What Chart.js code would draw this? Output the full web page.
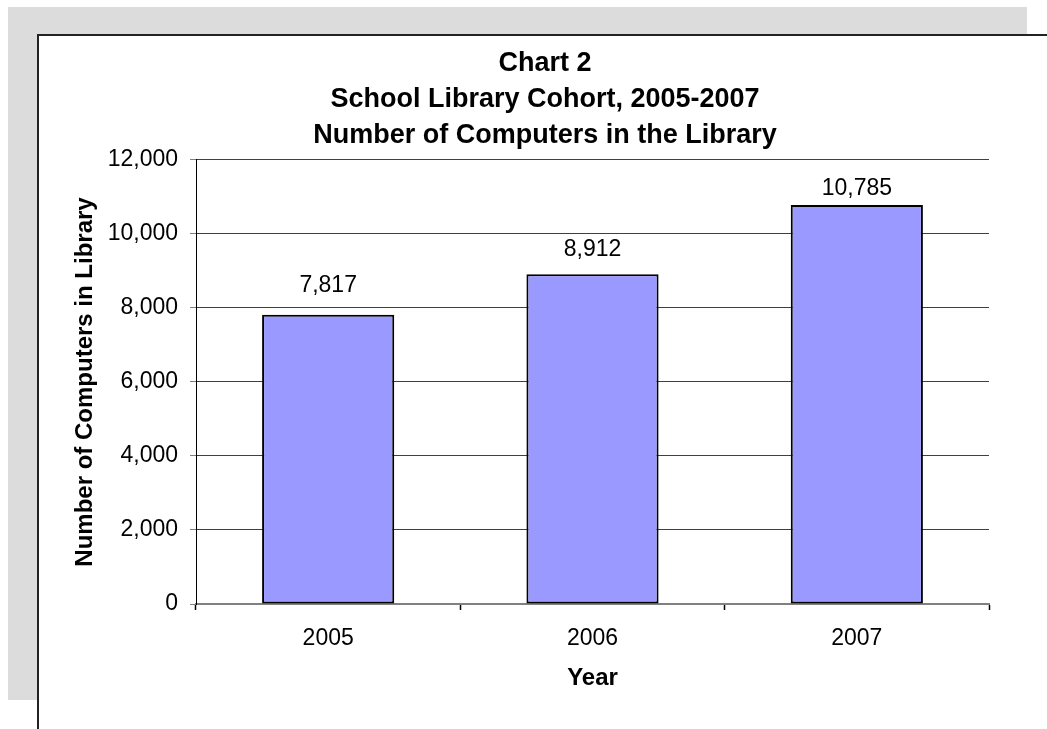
<!DOCTYPE html>
<html>
<head>
<meta charset="utf-8">
<title>School Library Cohort</title>
<script src="https://cdn.jsdelivr.net/npm/chart.js@4.4.0/dist/chart.umd.min.js"></script>
<style>
  html, body { margin: 0; padding: 0; background: #fff; }
  #wrap { position: relative; width: 1047px; height: 729px; overflow: hidden; }
  /* grey frame behind the chart sheet */
  #backdrop { position: absolute; left: 8px; top: 7px; width: 1019px; height: 693px; background: #dcdcdc; }
  #sheet { position: absolute; left: 37px; top: 34px; right: 0; bottom: 0; background: #fff;
           border-left: 2px solid #222; border-top: 2px solid #222; }
  #chart { position: absolute; left: 0; top: 0; }
</style>
</head>
<body>
<div id="wrap">
  <div id="backdrop"></div>
  <div id="sheet"></div>
  <canvas id="chart" width="1047" height="729"></canvas>
</div>
<script>
// data
var years = ['2005', '2006', '2007'];
var computers = [7817, 8912, 10785];
var yMax = 12000;
var yStep = 2000;
var titleLines = ['Chart 2', 'School Library Cohort, 2005-2007', 'Number of Computers in the Library'];
var xTitle = 'Year';
var yTitle = 'Number of Computers in Library';

var FONT = '"Liberation Sans", Arial, Helvetica, sans-serif';

function fmt(v) {
    return Number(v).toLocaleString('en-US');
}

// writes the value above each bar; labels sit a bit closer to the taller bars
var barValueLabels = {
    id: 'barValueLabels',
    afterDatasetsDraw: function (chart) {
        var ctx = chart.ctx;
        var top = chart.chartArea.top;
        var meta = chart.getDatasetMeta(0);
        ctx.save();
        ctx.font = '23px ' + FONT;
        ctx.fillStyle = '#000';
        ctx.textAlign = 'center';
        ctx.textBaseline = 'middle';
        meta.data.forEach(function (bar, i) {
            var y = top + 0.88 * (bar.y - top) - 11;
            ctx.fillText(fmt(computers[i]), bar.x, y);
        });
        ctx.restore();
    }
};

new Chart(document.getElementById('chart').getContext('2d'), {
    type: 'bar',
    data: {
        labels: years,
        datasets: [{
            data: computers,
            backgroundColor: '#9999ff',
            borderColor: '#000',
            borderWidth: 2,
            borderSkipped: false,
            categoryPercentage: 1,
            barPercentage: 0.5
        }]
    },
    plugins: [barValueLabels],
    options: {
        responsive: false,
        animation: false,
        // wide left padding keeps the title centred on the sheet
        layout: { padding: { left: 101, right: 58, top: 0, bottom: 36 } },
        plugins: {
            legend: { display: false },
            tooltip: { enabled: false },
            title: {
                display: true,
                text: titleLines,
                color: '#000',
                font: { family: FONT, size: 27, weight: 'bold', lineHeight: 1.333 },
                padding: { top: 46, bottom: 6 }
            }
        },
        scales: {
            x: {
                grid: { offset: true, drawOnChartArea: false, tickLength: 6, tickColor: '#000', tickWidth: 1.5 },
                border: { color: '#808080', width: 2 },
                ticks: { color: '#000', font: { family: FONT, size: 23 }, padding: 15 },
                title: { display: true, text: xTitle, color: '#000',
                         font: { family: FONT, size: 24, weight: 'bold' }, padding: 0 },
                afterFit: function (scale) { scale.height = 89; }
            },
            y: {
                min: 0,
                max: yMax,
                ticks: { stepSize: yStep, color: '#000', font: { family: FONT, size: 23 }, padding: 12,
                         callback: function (v) { return fmt(v); } },
                grid: { color: '#404040', lineWidth: 1, tickLength: 6, tickColor: '#808080' },
                border: { color: '#000', width: 1 },
                // negative padding pulls the axis title out into the left margin
                title: { display: true, text: yTitle, color: '#000',
                         font: { family: FONT, size: 24, weight: 'bold' }, padding: { top: -30, bottom: 0 } },
                afterFit: function (scale) { scale.width = 95; }
            }
        }
    }
});
</script>
</body>
</html>
